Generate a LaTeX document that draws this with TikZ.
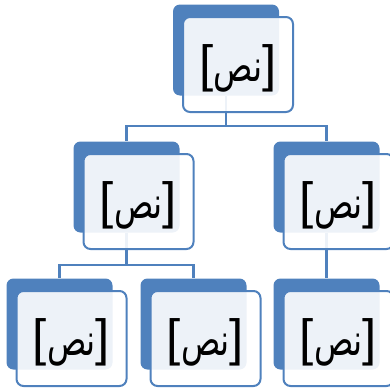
\documentclass[tikz,border=0pt]{standalone}
\usepackage{fontspec}
\usepackage{xcolor}
\usepackage{graphicx}
\usepackage{tikz}
\TeXXeTstate=1
\newfontfamily\arabicfont[Script=Arabic]{DejaVu Sans}
\newfontfamily\bracketfont{Liberation Sans}
\definecolor{officeblue}{HTML}{4F81BD}
\newcommand{\nasstext}{\raisebox{-4pt}[\height][\depth]{{\bracketfont[}\scalebox{0.74}[1]{\arabicfont\fontsize{44}{48}\selectfont\beginR نص\endR}{\bracketfont]}}}

\begin{document}
\begin{tikzpicture}[
    x=1pt, y=-1pt,
    backbox/.style={rectangle, fill=officeblue, rounded corners=7pt, inner sep=0pt,
                    minimum width=106pt, minimum height=91pt},
    frontbox/.style={rectangle, draw=officeblue, line width=2pt, rounded corners=7pt,
                     fill=white, fill opacity=0.9, text opacity=1, inner sep=0pt,
                     minimum width=110pt, minimum height=95pt,
                     font=\fontsize{51}{55}\selectfont},
    link/.style={draw=officeblue, line width=2.2pt}
]
    \useasboundingbox (0,0) rectangle (390,391);

    % Back shapes
    \node[backbox] (topb)  at (226,50)   {};
    \node[backbox] (midlb) at (126.5,187) {};
    \node[backbox] (midrb) at (326.5,187) {};
    \node[backbox] (botlb) at (59.5,324)  {};
    \node[backbox] (botmb) at (193.5,324) {};
    \node[backbox] (botrb) at (326.5,324) {};

    % Connectors
    \draw[link] (topb.south) -- ++(0,30) -| (midlb.north);
    \draw[link] (topb.south) -- ++(0,30) -| (midrb.north);
    \draw[link] (midlb.south) -- ++(0,32) -| (botlb.north);
    \draw[link] (midlb.south) -- ++(0,32) -| (botmb.north);
    \draw[link] (midrb.south) -- (botrb.north);

    % Front shapes with text
    \node[frontbox] (top)  at (238,64.5)   {\nasstext};
    \node[frontbox] (midl) at (138.5,201.5) {\nasstext};
    \node[frontbox] (midr) at (338.5,201.5) {\nasstext};
    \node[frontbox] (botl) at (71.5,338.5)  {\nasstext};
    \node[frontbox] (botm) at (205.5,338.5) {\nasstext};
    \node[frontbox] (botr) at (338.5,338.5) {\nasstext};
\end{tikzpicture}
\end{document}
